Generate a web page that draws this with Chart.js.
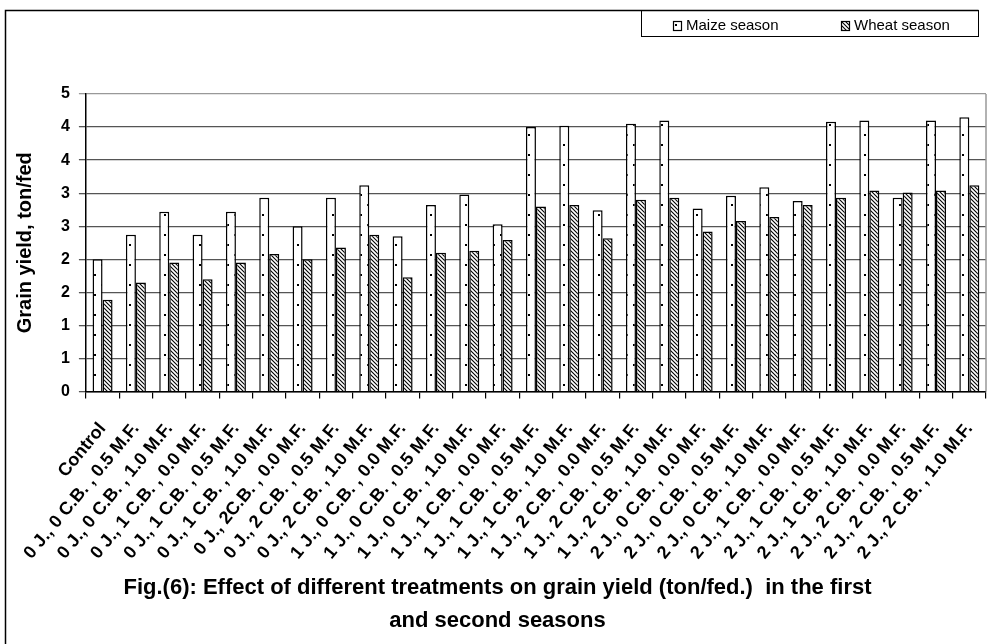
<!DOCTYPE html>
<html>
<head>
<meta charset="utf-8">
<script src="https://cdn.jsdelivr.net/npm/chart.js@4.4.1/dist/chart.umd.min.js"></script>
<style>
  html, body { margin: 0; padding: 0; background: #ffffff; }
  #wrap { position: relative; width: 989px; height: 644px; }
</style>
</head>
<body>
<div id="wrap"><canvas id="c" width="989" height="644"></canvas></div>
<script>
// ---- data ----
const categories = [
  'Control',
  '0 J., 0 C.B. , 0.5 M.F.', '0 J., 0 C.B. , 1.0 M.F.',
  '0 J., 1 C.B. , 0.0 M.F.', '0 J., 1 C.B. , 0.5 M.F.', '0 J., 1 C.B. , 1.0 M.F.',
  '0 J., 2C.B. , 0.0 M.F.', '0 J., 2 C.B. , 0.5 M.F.', '0 J., 2 C.B. , 1.0 M.F.',
  '1 J., 0 C.B. , 0.0 M.F.', '1 J., 0 C.B. , 0.5 M.F.', '1 J., 0 C.B. , 1.0 M.F.',
  '1 J., 1 C.B. , 0.0 M.F.', '1 J., 1 C.B. , 0.5 M.F.', '1 J., 1 C.B. , 1.0 M.F.',
  '1 J., 2 C.B. , 0.0 M.F.', '1 J., 2 C.B. , 0.5 M.F.', '1 J., 2 C.B. , 1.0 M.F.',
  '2 J., 0 C.B. , 0.0 M.F.', '2 J., 0 C.B. , 0.5 M.F.', '2 J., 0 C.B. , 1.0 M.F.',
  '2 J., 1 C.B. , 0.0 M.F.', '2 J., 1 C.B. , 0.5 M.F.', '2 J., 1 C.B. , 1.0 M.F.',
  '2 J., 2 C.B. , 0.0 M.F.', '2 J., 2 C.B. , 0.5 M.F.', '2 J., 2 C.B. , 1.0 M.F.'
];
const maizeSeason = [2.00, 2.37, 2.72, 2.37, 2.72, 2.93, 2.50, 2.93, 3.12, 2.35, 2.82, 2.98, 2.53, 4.00,
                     4.02, 2.74, 4.05, 4.10, 2.77, 2.96, 3.09, 2.88, 4.08, 4.10, 2.93, 4.10, 4.15];
const wheatSeason = [1.39, 1.65, 1.95, 1.70, 1.95, 2.08, 2.00, 2.18, 2.37, 1.73, 2.10, 2.13, 2.29, 2.80,
                     2.82, 2.32, 2.90, 2.93, 2.42, 2.58, 2.64, 2.82, 2.93, 3.04, 3.01, 3.04, 3.12];
const seriesNames = ['Maize season', 'Wheat season'];
const yTickLabels = ['0', '1', '1', '2', '2', '3', '3', '4', '4', '5'];
const yAxisTitle = 'Grain yield, ton/fed';
const chartTitle = ['Fig.(6): Effect of different treatments on grain yield (ton/fed.)  in the first',
                    'and second seasons'];

// ---- patterns ----
function dotPattern() {
  const c = document.createElement('canvas');
  c.width = 14; c.height = 20;
  const x = c.getContext('2d');
  x.fillStyle = '#ffffff'; x.fillRect(0, 0, 14, 20);
  x.fillStyle = '#000000';
  x.fillRect(3, 4, 2, 2);
  x.fillRect(10, 14, 2, 2);
  return x.createPattern(c, 'repeat');
}
function hatchPattern() {
  const s = 4;
  const c = document.createElement('canvas');
  c.width = s; c.height = s;
  const x = c.getContext('2d');
  x.fillStyle = '#ffffff'; x.fillRect(0, 0, s, s);
  x.strokeStyle = '#000000'; x.lineWidth = 1.1;
  x.beginPath();
  x.moveTo(-1, -1); x.lineTo(s + 1, s + 1);
  x.moveTo(-1, s - 1); x.lineTo(1, s + 1);
  x.moveTo(s - 1, -1); x.lineTo(s + 1, 1);
  x.stroke();
  return x.createPattern(c, 'repeat');
}
const pMaize = dotPattern();
const pWheat = hatchPattern();

const FONT = '"Liberation Sans", Arial, sans-serif';

const framePlugin = {
  id: 'framePlugin',
  afterDraw(chart) {
    const ctx = chart.ctx;
    const a = chart.chartArea;
    ctx.save();
    // plot area right border (grey)
    ctx.strokeStyle = '#999999';
    ctx.lineWidth = 1.5;
    ctx.beginPath();
    ctx.moveTo(a.right, a.top);
    ctx.lineTo(a.right, a.bottom);
    ctx.stroke();
    // outer frame (left + top)
    ctx.strokeStyle = '#000000';
    ctx.lineWidth = 1.5;
    ctx.beginPath();
    ctx.moveTo(5.5, 650);
    ctx.lineTo(5.5, 10.5);
    ctx.lineTo(978.5, 10.5);
    ctx.stroke();
    // legend box
    ctx.lineWidth = 1;
    ctx.strokeRect(641.5, 10.5, 337, 26);
    // legend items
    const items = [{bx: 673, tx: 686}, {bx: 841, tx: 854}];
    ctx.font = '15px ' + FONT;
    ctx.textBaseline = 'middle';
    ctx.textAlign = 'left';
    chart.data.datasets.forEach((ds, i) => {
      const it = items[i];
      ctx.fillStyle = ds.backgroundColor;
      ctx.fillRect(it.bx, 21, 8, 9);
      ctx.strokeStyle = '#000000';
      ctx.lineWidth = 1.2;
      ctx.strokeRect(it.bx + 0.5, 21.5, 8, 9);
      ctx.fillStyle = '#000000';
      ctx.fillText(ds.label, it.tx, 26);
    });
    ctx.restore();
  }
};

new Chart(document.getElementById('c'), {
  type: 'bar',
  data: {
    labels: categories,
    datasets: [
      { label: seriesNames[0], data: maizeSeason, backgroundColor: pMaize,
        borderColor: '#000000', borderWidth: 1.5, categoryPercentage: 0.6, barPercentage: 1.0 },
      { label: seriesNames[1], data: wheatSeason, backgroundColor: pWheat,
        borderColor: '#000000', borderWidth: 1.5, categoryPercentage: 0.6, barPercentage: 1.0 }
    ]
  },
  options: {
    responsive: false,
    animation: false,
    devicePixelRatio: 1,
    layout: { padding: { left: 9, right: 3, top: 94, bottom: 6 } },
    plugins: {
      legend: { display: false },
      tooltip: { enabled: false },
      title: {
        display: true,
        position: 'bottom',
        text: chartTitle,
        color: '#000000',
        font: { family: FONT, size: 22, weight: 'bold', lineHeight: 1.5 },
        padding: { top: 6, bottom: 0.5 }
      }
    },
    scales: {
      x: {
        offset: true,
        afterFit: (scale) => { scale.height -= 18; scale.paddingRight = 0; },
        grid: { display: true, drawOnChartArea: false, drawTicks: true, tickLength: 7, color: '#000000', lineWidth: 1.2, offset: true },
        border: { display: true, color: '#000000', width: 1.5 },
        ticks: {
          autoSkip: false, minRotation: 50.5, maxRotation: 50.5, padding: 20,
          color: '#000000',
          font: { family: FONT, size: 18, weight: 'bold' }
        }
      },
      y: {
        min: 0, max: 4.5,
        grid: {
          color: (ctx) => ctx.index === 9 ? '#999999' : '#555555',
          lineWidth: 1.3, tickLength: 7, drawTicks: true
        },
        border: { display: true, color: '#000000', width: 1.5 },
        ticks: {
          stepSize: 0.5, padding: 9, color: '#000000',
          font: { family: FONT, size: 16, weight: 'bold' },
          callback: (v, i) => yTickLabels[i]
        },
        title: {
          display: true, text: yAxisTitle, color: '#000000',
          font: { family: FONT, size: 20, weight: 'bold' },
          padding: { top: 4, bottom: 15 }
        }
      }
    }
  },
  plugins: [framePlugin]
});
</script>
</body>
</html>
